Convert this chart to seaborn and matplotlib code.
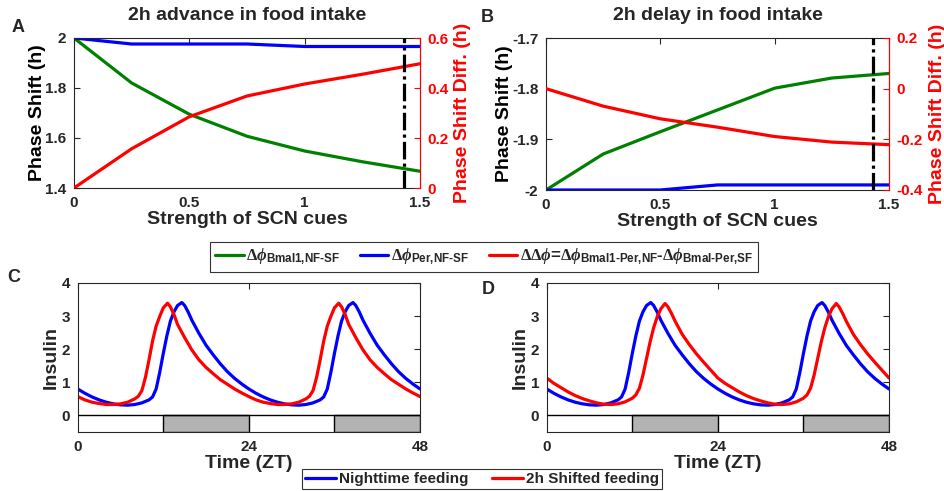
import numpy as np
import pandas as pd
import matplotlib
matplotlib.use("Agg")
import matplotlib.pyplot as plt
import seaborn as sns
from matplotlib.lines import Line2D

# ---------------- data ----------------
scn_strength = [0, 0.25, 0.5, 0.75, 1.0, 1.25, 1.5]
adv_bmal1 = [2.0, 1.82, 1.695, 1.607, 1.548, 1.505, 1.467]
adv_per = [2.0, 1.976, 1.976, 1.976, 1.966, 1.966, 1.966]
adv_diff = [0.0, 0.157, 0.285, 0.368, 0.416, 0.455, 0.497]
del_bmal1 = [-2.0, -1.929, -1.885, -1.842, -1.799, -1.779, -1.770]
del_per = [-2.0, -2.0, -2.0, -1.99, -1.99, -1.99, -1.99]
del_diff = [0.0, -0.069, -0.119, -0.152, -0.189, -0.211, -0.221]
scn_marker = 1.43

night_t = [0, 1, 2, 3, 4, 5, 6, 7, 8, 9, 10, 10.5, 11, 11.5, 12, 12.5, 13, 13.5, 14, 14.6,
           15, 15.5, 16, 17, 18, 19, 20, 21, 22, 23,
           24, 25, 26, 27, 28, 29, 30, 31, 32, 33, 34, 34.5, 35, 35.5, 36, 36.5, 37, 37.5, 38, 38.6,
           39, 39.5, 40, 41, 42, 43, 44, 45, 46, 47, 48]
night_ins = [0.80, 0.67, 0.56, 0.47, 0.40, 0.35, 0.32, 0.31, 0.33, 0.38, 0.47, 0.56, 0.80, 1.30, 1.87, 2.40, 2.85, 3.13, 3.32, 3.41,
             3.32, 3.12, 2.88, 2.48, 2.12, 1.83, 1.56, 1.32, 1.12, 0.95,
             0.80, 0.67, 0.56, 0.47, 0.40, 0.35, 0.32, 0.31, 0.33, 0.38, 0.47, 0.56, 0.80, 1.30, 1.87, 2.40, 2.85, 3.13, 3.32, 3.41,
             3.32, 3.12, 2.88, 2.48, 2.12, 1.83, 1.56, 1.32, 1.12, 0.95, 0.80]

adv_t = [0, 1, 2, 3, 4, 5, 6, 7, 8, 8.5, 9, 9.5, 10, 10.5, 11, 11.5, 12, 12.6, 13, 13.5,
         14, 15, 16, 17, 18, 19, 20, 21, 22, 23,
         24, 25, 26, 27, 28, 29, 30, 31, 32, 32.5, 33, 33.5, 34, 34.5, 35, 35.5, 36, 36.6, 37, 37.5,
         38, 39, 40, 41, 42, 43, 44, 45, 46, 47, 48]
adv_ins = [0.57, 0.47, 0.40, 0.36, 0.33, 0.33, 0.35, 0.40, 0.50, 0.58, 0.75, 1.15, 1.68, 2.25, 2.70, 2.99, 3.25, 3.39, 3.28, 3.05,
           2.75, 2.35, 1.98, 1.68, 1.45, 1.26, 1.08, 0.94, 0.80, 0.68,
           0.57, 0.47, 0.40, 0.36, 0.33, 0.33, 0.35, 0.40, 0.50, 0.58, 0.75, 1.15, 1.68, 2.25, 2.70, 2.99, 3.25, 3.39, 3.28, 3.05,
           2.75, 2.35, 1.98, 1.68, 1.45, 1.26, 1.08, 0.94, 0.80, 0.68, 0.57]

del_t = [0, 1, 2, 3, 4, 5, 6, 7, 8, 9, 10, 11, 12, 12.5, 13, 13.5, 14, 14.5, 15, 15.5,
         16, 16.6, 17, 17.5, 18, 19, 20, 21, 22, 23,
         24, 25, 26, 27, 28, 29, 30, 31, 32, 33, 34, 35, 36, 36.5, 37, 37.5, 38, 38.5, 39, 39.5,
         40, 40.6, 41, 41.5, 42, 43, 44, 45, 46, 47, 48]
del_ins = [1.13, 0.97, 0.84, 0.71, 0.60, 0.51, 0.44, 0.38, 0.34, 0.33, 0.35, 0.41, 0.52, 0.62, 0.82, 1.22, 1.72, 2.22, 2.65, 2.98,
           3.22, 3.38, 3.28, 3.08, 2.85, 2.45, 2.14, 1.86, 1.61, 1.37,
           1.13, 0.97, 0.84, 0.71, 0.60, 0.51, 0.44, 0.38, 0.34, 0.33, 0.35, 0.41, 0.52, 0.62, 0.82, 1.22, 1.72, 2.22, 2.65, 2.98,
           3.22, 3.38, 3.28, 3.08, 2.85, 2.45, 2.14, 1.86, 1.61, 1.37, 1.13]

feeding_start = [12, 36]
feeding_length = [12, 12]

# ---------------- style ----------------
sns.set_style("white")
plt.rcParams["font.family"] = ["Liberation Sans", "DejaVu Sans"]
plt.rcParams["font.weight"] = "bold"
plt.rcParams["axes.labelweight"] = "bold"
plt.rcParams["axes.titleweight"] = "bold"
plt.rcParams["mathtext.fontset"] = "custom"
plt.rcParams["mathtext.rm"] = "Liberation Serif"
plt.rcParams["mathtext.it"] = "Liberation Serif:italic"
plt.rcParams["mathtext.bf"] = "Liberation Sans:bold"

GREEN = (0.0, 0.5, 0.0)
BLUE = (0.0, 0.0, 1.0)
RED = (1.0, 0.0, 0.0)
TXT = "#262626"
LW = 2.3
LAB = 14
TICK = 11
PAD = 5.5

W, H = 945, 491
fig = plt.figure(figsize=(W / 100, H / 100), dpi=100)


def px_axes(l, t, r, b):
    return fig.add_axes([l / W, 1 - b / H, (r - l) / W, (b - t) / H])


def style_ax(ax, right=True):
    for s in ax.spines.values():
        s.set_color(TXT)
        s.set_linewidth(0.8)
    ax.tick_params(direction="in", length=4, width=0.8, colors=TXT, labelsize=TICK, pad=PAD,
                   top=True, right=right, labelcolor=TXT)
    for lab in ax.get_xticklabels() + ax.get_yticklabels():
        lab.set_fontweight("bold")


def shift_panel(ax, bmal, per, diff, ylim, yticks, yticklabels, rlim, rticks, rticklabels, title):
    sns.lineplot(x=scn_strength, y=bmal, ax=ax, color=GREEN, lw=LW)
    sns.lineplot(x=scn_strength, y=per, ax=ax, color=BLUE, lw=LW)
    ax.set_xlim(0, 1.5)
    ax.set_ylim(*ylim)
    ax.set_xticks([0, 0.5, 1, 1.5])
    ax.set_xticklabels(["0", "0.5", "1", "1.5"])
    ax.set_yticks(yticks)
    ax.set_yticklabels(yticklabels)
    ax.set_xlabel("Strength of SCN cues", fontsize=LAB, color=TXT, labelpad=1)
    ax.set_ylabel("Phase Shift (h)", fontsize=LAB, color="black", labelpad=-1)
    ax.set_title(title, fontsize=LAB, color=TXT, pad=13)
    style_ax(ax, right=False)
    ax2 = ax.twinx()
    sns.lineplot(x=scn_strength, y=diff, ax=ax2, color=RED, lw=LW)
    ax2.axvline(scn_marker, color="black", lw=LW, linestyle=(0, (5.5, 1.3, 1.0, 1.3)))
    ax2.set_ylim(*rlim)
    ax2.set_yticks(rticks)
    ax2.set_yticklabels(rticklabels)
    ax2.set_ylabel("Phase Shift Diff. (h)", fontsize=LAB, color=RED, labelpad=4)
    ax2.tick_params(axis="y", direction="in", length=4, width=0.8, colors=RED, labelsize=TICK, pad=PAD)
    for lab in ax2.get_yticklabels():
        lab.set_fontweight("bold")
    ax2.spines["right"].set_color(RED)
    ax2.spines["right"].set_linewidth(0.8)
    for s in ["left", "top", "bottom"]:
        ax2.spines[s].set_visible(False)
    return ax2


axA = px_axes(74, 38, 420, 188)
shift_panel(axA, adv_bmal1, adv_per, adv_diff, (1.4, 2.0), [1.4, 1.6, 1.8, 2.0],
            ["1.4", "1.6", "1.8", "2"], (0, 0.6), [0, 0.2, 0.4, 0.6], ["0", "0.2", "0.4", "0.6"],
            "2h advance in food intake")

axB = px_axes(546, 38, 889, 190)
shift_panel(axB, del_bmal1, del_per, del_diff, (-2.0, -1.7), [-2.0, -1.9, -1.8, -1.7],
            ["-2", "-1.9", "-1.8", "-1.7"], (-0.4, 0.2), [-0.4, -0.2, 0, 0.2], ["-0.4", "-0.2", "0", "0.2"],
            "2h delay in food intake")


def insulin_panel(ax, t2, y2):
    sns.lineplot(x=night_t, y=night_ins, ax=ax, color=BLUE, lw=LW)
    sns.lineplot(x=t2, y=y2, ax=ax, color=RED, lw=LW)
    ax.bar(feeding_start, [0.5, 0.5], width=feeding_length, bottom=-0.5, align="edge",
           color="#b3b3b3", edgecolor="black", linewidth=1.0, zorder=3)
    ax.axhline(0, color="black", lw=1.0, zorder=3)
    ax.set_xlim(0, 48)
    ax.set_ylim(-0.5, 4)
    ax.set_xticks([0, 24, 48])
    ax.set_yticks([0, 1, 2, 3, 4])
    ax.set_xlabel("Time (ZT)", fontsize=LAB, color=TXT, labelpad=1)
    ax.set_ylabel("Insulin", fontsize=LAB, color=TXT, labelpad=1)
    style_ax(ax, right=True)


axC = px_axes(77.7, 283, 420, 432)
insulin_panel(axC, adv_t, adv_ins)
axD = px_axes(546.7, 283, 889, 432)
insulin_panel(axD, del_t, del_ins)

# panel letters
for letter, (x, y) in {"A": (18, 27), "B": (487, 18), "C": (14, 277), "D": (488, 289)}.items():
    fig.text(x / W, 1 - y / H, letter, fontsize=13, fontweight="bold", ha="center", va="center")

# top legend
HY = "\u2010"
h1 = [Line2D([], [], color=GREEN, lw=LW), Line2D([], [], color=BLUE, lw=LW), Line2D([], [], color=RED, lw=LW)]
l1 = ["$\\Delta\\phi_{\\mathbf{Bmal1{,}NF" + HY + "SF}}$",
      "$\\Delta\\phi_{\\mathbf{Per{,}NF" + HY + "SF}}$",
      "$\\Delta\\Delta\\phi$=$\\Delta\\phi_{\\mathbf{Bmal1" + HY + "Per{,}NF}}$" + HY
      + "$\\Delta\\phi_{\\mathbf{Bmal" + HY + "Per{,}SF}}$"]
leg1 = fig.legend(h1, l1, loc="center", bbox_to_anchor=(484 / W, 1 - 257 / H), ncol=3,
                  fontsize=12, handlelength=1.7, handletextpad=0.15, columnspacing=1.2,
                  frameon=True, fancybox=False, edgecolor="black", borderpad=0.3)
leg1.get_frame().set_linewidth(0.8)

# bottom legend
h2 = [Line2D([], [], color=BLUE, lw=LW), Line2D([], [], color=RED, lw=LW)]
l2 = ["Nighttime feeding", "2h Shifted feeding"]
leg2 = fig.legend(h2, l2, loc="center", bbox_to_anchor=(482 / W, 1 - 479 / H), ncol=2,
                  fontsize=11, handlelength=2.0, handletextpad=0.2, columnspacing=1.6,
                  frameon=True, fancybox=False, edgecolor="black", borderpad=0.2)
leg2.get_frame().set_linewidth(0.8)
for t in leg2.get_texts():
    t.set_fontweight("bold")

fig.savefig("out.png", dpi=100, facecolor="white")
